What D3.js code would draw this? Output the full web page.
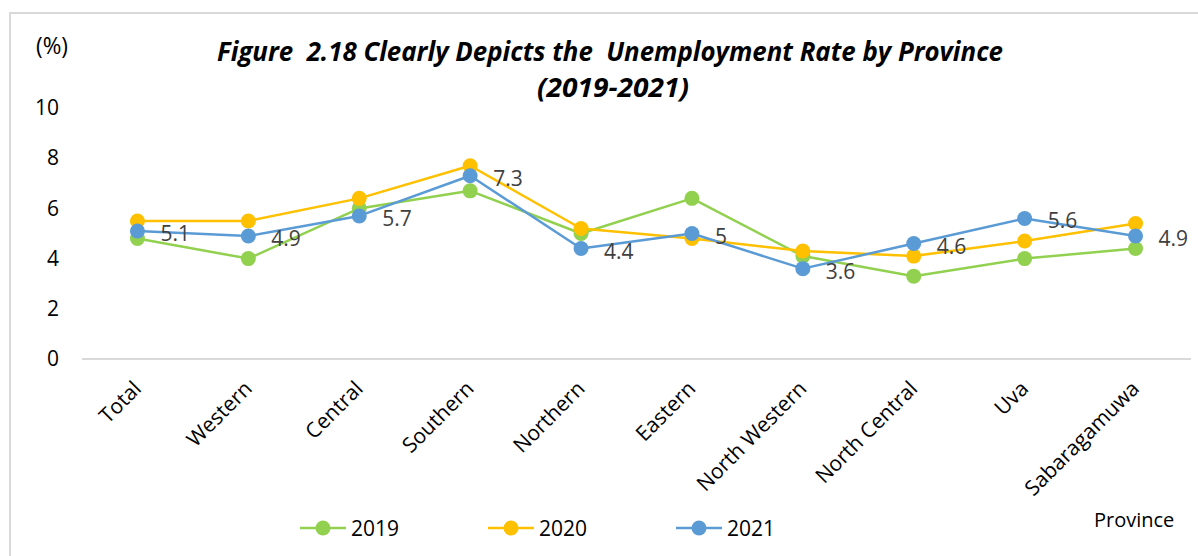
<!DOCTYPE html>
<html>
<head>
<meta charset="utf-8">
<script src="https://cdn.jsdelivr.net/npm/d3@7"></script>
<style>
  html, body { margin: 0; padding: 0; background: #fff; }
  svg { display: block; font-family: "Open Sans", sans-serif; }
</style>
</head>
<body>
<svg id="chart" width="1198" height="556"></svg>
<script>
// Provinces along the x axis
const provinces = ["Total", "Western", "Central", "Southern", "Northern", "Eastern",
  "North Western", "North Central", "Uva", "Sabaragamuwa"];

// Unemployment rate (%) per year
const rate2019 = [4.8, 4.0, 6.0, 6.7, 5.0, 6.4, 4.1, 3.3, 4.0, 4.4];
const rate2020 = [5.5, 5.5, 6.4, 7.7, 5.2, 4.8, 4.3, 4.1, 4.7, 5.4];
const rate2021 = [5.1, 4.9, 5.7, 7.3, 4.4, 5.0, 3.6, 4.6, 5.6, 4.9];

const years = ["2019", "2020", "2021"];
const yTicks = [0, 2, 4, 6, 8, 10];

const series = [
  { name: years[0], values: rate2019, color: "#92d050", labels: false },
  { name: years[1], values: rate2020, color: "#ffc000", labels: false },
  { name: years[2], values: rate2021, color: "#5b9bd5", labels: true }
];

const svg = d3.select("#chart");

// Outer frame (only its top and left edges fall inside the view)
svg.append("rect")
  .attr("x", 10).attr("y", 13)
  .attr("width", 1240).attr("height", 600)
  .attr("fill", "none").attr("stroke", "#d9d9d9").attr("stroke-width", 2);

const x = d3.scaleBand().domain(provinces).range([82, 1191]);
const y = d3.scaleLinear().domain([0, 10]).range([359, 108]);
const cx = d => x(d) + x.bandwidth() / 2;

// Title
svg.append("text")
  .attr("x", 610).attr("y", 61)
  .attr("text-anchor", "middle")
  .attr("font-size", 26).attr("font-weight", "bold").attr("font-style", "italic")
  .attr("textLength", 786).attr("lengthAdjust", "spacingAndGlyphs")
  .attr("xml:space", "preserve")
  .text("Figure  2.18 Clearly Depicts the  Unemployment Rate by Province");
svg.append("text")
  .attr("x", 613).attr("y", 97)
  .attr("text-anchor", "middle")
  .attr("font-size", 26).attr("font-weight", "bold").attr("font-style", "italic")
  .attr("textLength", 152).attr("lengthAdjust", "spacingAndGlyphs")
  .text("(2019-2021)");

// Unit label
svg.append("text")
  .attr("x", 52).attr("y", 54)
  .attr("text-anchor", "middle")
  .attr("font-size", 23).attr("fill", "#000")
  .attr("textLength", 32).attr("lengthAdjust", "spacingAndGlyphs")
  .text("(%)");

// Y axis tick labels (no axis line)
const yAxis = d3.axisLeft(y).tickValues(yTicks).tickSize(0).tickPadding(0).tickFormat(d3.format("d"));
const yg = svg.append("g").attr("transform", "translate(59,0)").call(yAxis);
yg.select(".domain").remove();
yg.selectAll("text")
  .attr("font-family", "Open Sans, sans-serif")
  .attr("font-size", 21).attr("fill", "#000");

// X axis baseline and rotated category labels
const xAxis = d3.axisBottom(x).tickSize(0).tickPadding(0);
const xg = svg.append("g").attr("transform", `translate(0,${y(0)})`).call(xAxis);
xg.select(".domain").attr("stroke", "#d9d9d9").attr("stroke-width", 2)
  .attr("d", `M82,0H1191`);
xg.selectAll(".tick text")
  .attr("font-family", "Open Sans, sans-serif")
  .attr("font-size", 21).attr("fill", "#000")
  .attr("text-anchor", "end")
  .attr("dy", 0)
  .attr("transform", "translate(5,31) rotate(-45)");

// Lines and markers, one series after another
const line = d3.line().x((d, i) => cx(provinces[i])).y(d => y(d));

series.forEach(s => {
  const g = svg.append("g");
  g.append("path")
    .datum(s.values)
    .attr("d", line)
    .attr("fill", "none")
    .attr("stroke", s.color)
    .attr("stroke-width", 2.5)
    .attr("stroke-linejoin", "round");
  g.selectAll("circle")
    .data(s.values)
    .join("circle")
    .attr("cx", (d, i) => cx(provinces[i]))
    .attr("cy", d => y(d))
    .attr("r", 7.5)
    .attr("fill", s.color);
});

// Value labels for the latest year
const last = series.find(s => s.labels);
svg.append("g").selectAll("text")
  .data(last.values)
  .join("text")
  .attr("x", (d, i) => cx(provinces[i]) + 23)
  .attr("y", d => y(d) + 2)
  .attr("dominant-baseline", "central")
  .attr("font-size", 21)
  .attr("fill", "#404040")
  .text(d => d3.format("~g")(d));

// Legend
const legendX = [300, 488, 676];
const lg = svg.append("g");
series.forEach((s, i) => {
  const gx = legendX[i];
  lg.append("line")
    .attr("x1", gx).attr("x2", gx + 46)
    .attr("y1", 528).attr("y2", 528)
    .attr("stroke", s.color).attr("stroke-width", 2.5);
  lg.append("circle")
    .attr("cx", gx + 23).attr("cy", 528).attr("r", 7.5)
    .attr("fill", s.color);
  lg.append("text")
    .attr("x", gx + 51).attr("y", 528)
    .attr("dominant-baseline", "central")
    .attr("font-size", 21).attr("fill", "#000")
    .text(s.name);
});

// X axis title
svg.append("text")
  .attr("x", 1094).attr("y", 527)
  .attr("font-size", 20).attr("fill", "#000")
  .text("Province");
</script>
</body>
</html>
